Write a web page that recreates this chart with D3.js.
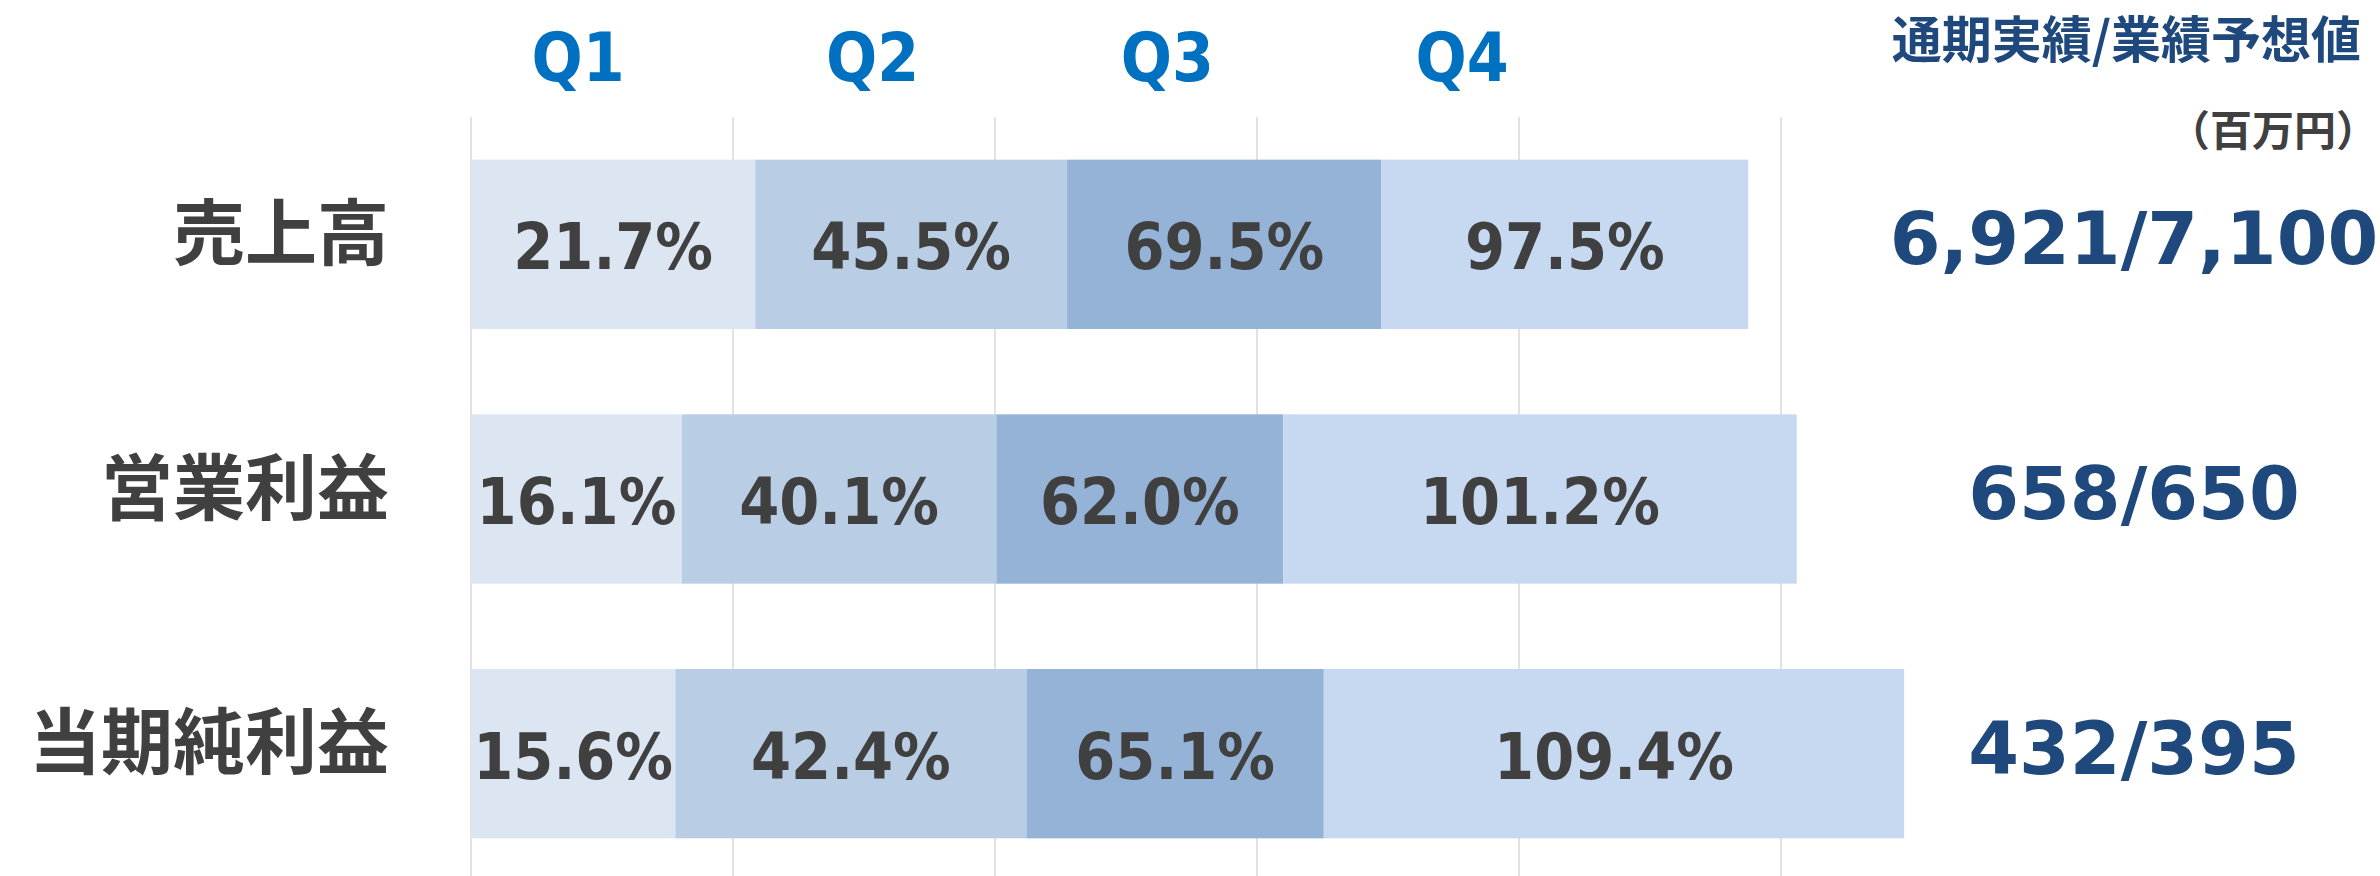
<!DOCTYPE html>
<html>
<head>
<meta charset="utf-8">
<script src="https://cdn.jsdelivr.net/npm/d3@7"></script>
<style>
  body { margin: 0; background: #fff; }
  .cjk { font-family: "Noto Sans CJK JP", sans-serif; font-weight: 700; }
  .num { font-family: "DejaVu Sans Condensed", "DejaVu Sans", sans-serif; font-weight: 700; }
  .big { font-family: "DejaVu Sans", sans-serif; font-weight: 700; }
</style>
</head>
<body>
<svg id="chart"></svg>
<script>
// data: cumulative achievement rate (%) per quarter
var categories = ["売上高", "営業利益", "当期純利益"];
var quarters   = ["Q1", "Q2", "Q3", "Q4"];
var salesRate  = [21.7, 45.5, 69.5, 97.5];
var opRate     = [16.1, 40.1, 62.0, 101.2];
var netRate    = [15.6, 42.4, 65.1, 109.4];
var results    = ["6,921/7,100", "658/650", "432/395"];
var xTicks     = [0, 20, 40, 60, 80, 100];

var rates = [salesRate, opRate, netRate];
var colors = ["#dce6f2", "#b9cde5", "#95b3d7", "#c6d9f1"];

var width = 2380, height = 876;

var svg = d3.select("#chart")
    .attr("width", width)
    .attr("height", height);

// scales
var x = d3.scaleLinear()
    .domain([0, 100])
    .range([471, 1781]);

var y = d3.scaleBand()
    .domain(categories)
    .range([117, 881])
    .paddingInner(0.335)
    .paddingOuter(0.1675);

var qx = d3.scalePoint()
    .domain(quarters)
    .range([578, 1462]);

// gridlines
svg.append("g")
    .selectAll("line")
    .data(xTicks)
    .enter().append("line")
        .attr("x1", function(d) { return x(d); })
        .attr("x2", function(d) { return x(d); })
        .attr("y1", 117)
        .attr("y2", height)
        .attr("stroke", "#d9d9d9")
        .attr("stroke-width", 1.5);

// segments: from previous cumulative value to current
var segs = [];
categories.forEach(function(c, i) {
    rates[i].forEach(function(v, j) {
        segs.push({cat: c, q: j, x0: j === 0 ? 0 : rates[i][j - 1], x1: v});
    });
});

var rows = svg.append("g");

rows.selectAll("rect")
    .data(segs)
    .enter().append("rect")
        .attr("x", function(d) { return x(d.x0); })
        .attr("y", function(d) { return y(d.cat); })
        .attr("width", function(d) { return x(d.x1) - x(d.x0); })
        .attr("height", y.bandwidth())
        .attr("fill", function(d) { return colors[d.q]; });

// percent labels
rows.selectAll("text")
    .data(segs)
    .enter().append("text")
        .attr("class", "num")
        .attr("x", function(d) { return (x(d.x0) + x(d.x1)) / 2; })
        .attr("y", function(d) { return y(d.cat) + y.bandwidth() / 2 + 25; })
        .attr("text-anchor", "middle")
        .attr("font-size", 64)
        .attr("fill", "#404040")
        .text(function(d) { return d.x1.toFixed(1) + "%"; });

// quarter headers
svg.append("g")
    .selectAll("text")
    .data(quarters)
    .enter().append("text")
        .attr("class", "num")
        .attr("x", function(d) { return qx(d); })
        .attr("y", 81)
        .attr("text-anchor", "middle")
        .attr("font-size", 67)
        .attr("fill", "#0070c0")
        .text(function(d) { return d; });

// category labels
svg.append("g")
    .selectAll("text")
    .data(categories)
    .enter().append("text")
        .attr("class", "cjk")
        .attr("x", 389)
        .attr("y", function(d) { return y(d) + y.bandwidth() / 2 - 17; })
        .attr("dominant-baseline", "central")
        .attr("text-anchor", "end")
        .attr("font-size", 72)
        .attr("fill", "#404040")
        .text(function(d) { return d; });

// full-year results / forecast
svg.append("text")
    .attr("class", "cjk")
    .attr("x", 2361)
    .attr("y", 58)
    .attr("text-anchor", "end")
    .attr("font-size", 50)
    .attr("fill", "#1f497d")
    .text("通期実績/業績予想値");

svg.append("text")
    .attr("class", "cjk")
    .attr("x", 2378)
    .attr("y", 146)
    .attr("text-anchor", "end")
    .attr("font-size", 42)
    .attr("fill", "#404040")
    .text("（百万円）");

svg.append("g")
    .selectAll("text")
    .data(results)
    .enter().append("text")
        .attr("class", "big")
        .attr("x", 2134)
        .attr("y", function(d, i) { return y(categories[i]) + y.bandwidth() / 2 + 20; })
        .attr("text-anchor", "middle")
        .attr("font-size", 73)
        .attr("fill", "#1f497d")
        .text(function(d) { return d; });
</script>
</body>
</html>
